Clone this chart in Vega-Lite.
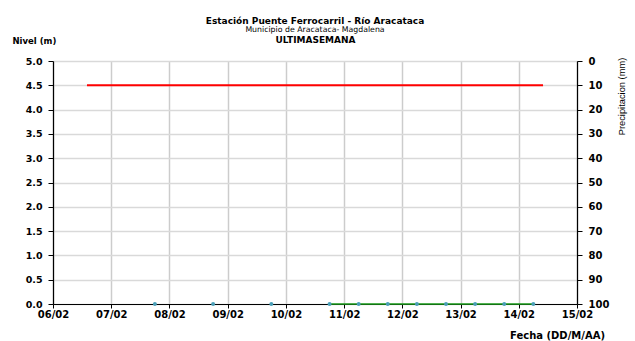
{
  "$schema": "https://vega.github.io/schema/vega-lite/v6.json",
  "width": 524,
  "height": 243,
  "autosize": {"type": "none"},
  "padding": {"left": 53, "top": 61, "right": 58, "bottom": 37},
  "background": "white",
  "config": {
    "font": "DejaVu Sans",
    "view": {"stroke": null},
    "axis": {
      "labelFont": "DejaVu Sans",
      "titleFont": "DejaVu Sans",
      "labelColor": "black",
      "titleColor": "black",
      "labelFontWeight": "bold",
      "labelFontSize": 9.5,
      "domainColor": "black",
      "domainWidth": 1.2,
      "tickColor": "black",
      "tickWidth": 1
    }
  },
  "title": {
    "text": "Estación Puente Ferrocarril - Río Aracataca",
    "subtitle": "Municipio de Aracataca- Magdalena",
    "font": "DejaVu Sans",
    "subtitleFont": "DejaVu Sans",
    "fontSize": 9,
    "fontWeight": "bold",
    "subtitleFontSize": 7.8,
    "subtitleFontWeight": "normal",
    "color": "black",
    "subtitleColor": "black",
    "subtitlePadding": 0,
    "anchor": "middle",
    "offset": 1
  },
  "datasets": {
    "precipitacion": [
      {"fecha": "2024-02-07T18:00:00Z", "precipitacion": 0},
      {"fecha": "2024-02-08T18:00:00Z", "precipitacion": 0},
      {"fecha": "2024-02-09T18:00:00Z", "precipitacion": 0},
      {"fecha": "2024-02-10T18:00:00Z", "precipitacion": 0},
      {"fecha": "2024-02-11T06:00:00Z", "precipitacion": 0},
      {"fecha": "2024-02-11T18:00:00Z", "precipitacion": 0},
      {"fecha": "2024-02-12T06:00:00Z", "precipitacion": 0},
      {"fecha": "2024-02-12T18:00:00Z", "precipitacion": 0},
      {"fecha": "2024-02-13T06:00:00Z", "precipitacion": 0},
      {"fecha": "2024-02-13T18:00:00Z", "precipitacion": 0},
      {"fecha": "2024-02-14T06:00:00Z", "precipitacion": 0}
    ],
    "umbral": [
      {"fecha": "2024-02-06T14:00:00Z", "nivel": 4.5},
      {"fecha": "2024-02-14T10:00:00Z", "nivel": 4.5}
    ],
    "nivel": [
      {"fecha": "2024-02-10T18:00:00Z", "nivel": 0},
      {"fecha": "2024-02-11T06:00:00Z", "nivel": 0},
      {"fecha": "2024-02-11T18:00:00Z", "nivel": 0},
      {"fecha": "2024-02-12T06:00:00Z", "nivel": 0},
      {"fecha": "2024-02-12T18:00:00Z", "nivel": 0},
      {"fecha": "2024-02-13T06:00:00Z", "nivel": 0},
      {"fecha": "2024-02-13T18:00:00Z", "nivel": 0},
      {"fecha": "2024-02-14T06:00:00Z", "nivel": 0}
    ],
    "lecturas": [
      {"fecha": "2024-02-07T18:00:00Z", "nivel": 0},
      {"fecha": "2024-02-08T18:00:00Z", "nivel": 0},
      {"fecha": "2024-02-09T18:00:00Z", "nivel": 0},
      {"fecha": "2024-02-10T18:00:00Z", "nivel": 0},
      {"fecha": "2024-02-11T06:00:00Z", "nivel": 0},
      {"fecha": "2024-02-11T18:00:00Z", "nivel": 0},
      {"fecha": "2024-02-12T06:00:00Z", "nivel": 0},
      {"fecha": "2024-02-12T18:00:00Z", "nivel": 0},
      {"fecha": "2024-02-13T06:00:00Z", "nivel": 0},
      {"fecha": "2024-02-13T18:00:00Z", "nivel": 0},
      {"fecha": "2024-02-14T06:00:00Z", "nivel": 0}
    ]
  },
  "layer": [
    {
      "data": {"name": "precipitacion"},
      "mark": {"type": "bar", "width": 2, "color": "#3366cc"},
      "encoding": {
        "x": {
          "field": "fecha",
          "type": "temporal",
          "scale": {"type": "utc", "padding": 0, "domain": ["2024-02-06T00:00:00Z", "2024-02-15T00:00:00Z"]},
          "axis": {
            "orient": "bottom",
            "format": "%d/%m",
            "values": [
              {"year": 2024, "month": 2, "date": 6, "utc": true},
              {"year": 2024, "month": 2, "date": 7, "utc": true},
              {"year": 2024, "month": 2, "date": 8, "utc": true},
              {"year": 2024, "month": 2, "date": 9, "utc": true},
              {"year": 2024, "month": 2, "date": 10, "utc": true},
              {"year": 2024, "month": 2, "date": 11, "utc": true},
              {"year": 2024, "month": 2, "date": 12, "utc": true},
              {"year": 2024, "month": 2, "date": 13, "utc": true},
              {"year": 2024, "month": 2, "date": 14, "utc": true},
              {"year": 2024, "month": 2, "date": 15, "utc": true}
            ],
            "grid": true,
            "gridColor": "#cccccc",
            "gridWidth": 1.5,
            "tickSize": 4,
            "labelPadding": 1,
            "labelFontSize": 10,
            "labelAngle": 0,
            "labelFlush": false,
            "labelOverlap": false,
            "title": "Fecha (DD/M/AA)",
            "titleFontSize": 10,
            "titleFontWeight": "bold",
            "titleAlign": "center",
            "titleBaseline": "alphabetic",
            "titleX": 504,
            "titleY": 34
          }
        },
        "y": {
          "field": "precipitacion",
          "type": "quantitative",
          "scale": {"domain": [0, 100], "reverse": true, "nice": false, "zero": true},
          "axis": {
            "orient": "right",
            "values": [0, 10, 20, 30, 40, 50, 60, 70, 80, 90, 100],
            "grid": false,
            "tickSize": 5,
            "labelPadding": 6,
            "labelFontSize": 10,
            "labelFlush": false,
            "title": "Precipitacion (mm)",
            "titleFont": "Liberation Sans",
            "titleFontSize": 9.3,
            "titleFontWeight": "normal",
            "titleAngle": 270,
            "titleAlign": "center",
            "titleBaseline": "middle",
            "titleX": 44,
            "titleY": 35
          }
        }
      }
    },
    {
      "encoding": {
        "x": {
          "field": "fecha",
          "type": "temporal",
          "scale": {"type": "utc", "padding": 0, "domain": ["2024-02-06T00:00:00Z", "2024-02-15T00:00:00Z"]},
          "axis": {
            "orient": "top",
            "labels": false,
            "ticks": false,
            "domain": false,
            "grid": false,
            "title": "ULTIMASEMANA",
            "titleFontSize": 9,
            "titleFontWeight": "bold",
            "titleAlign": "center",
            "titleBaseline": "alphabetic",
            "titleX": 262,
            "titleY": -19
          }
        },
        "y": {
          "field": "nivel",
          "type": "quantitative",
          "scale": {"domain": [0, 5], "nice": false},
          "axis": {
            "orient": "left",
            "values": [0, 0.5, 1, 1.5, 2, 2.5, 3, 3.5, 4, 4.5, 5],
            "format": ".1f",
            "grid": true,
            "gridColor": "#d9d9d9",
            "gridWidth": 1.5,
            "tickSize": 5,
            "labelPadding": 6,
            "labelFlush": false,
            "title": "Nivel (m)",
            "titleFontSize": 8.5,
            "titleFontWeight": "bold",
            "titleAngle": 0,
            "titleAlign": "left",
            "titleBaseline": "alphabetic",
            "titleX": -41,
            "titleY": -18
          }
        }
      },
      "layer": [
        {
          "data": {"name": "umbral"},
          "mark": {"type": "line", "color": "#ff0000", "strokeWidth": 2}
        },
        {
          "data": {"name": "nivel"},
          "mark": {"type": "line", "color": "#1a9a1a", "strokeWidth": 1.6}
        },
        {
          "data": {"name": "lecturas"},
          "mark": {"type": "point", "filled": true, "size": 16, "color": "#4a9fb8", "opacity": 1}
        }
      ]
    }
  ],
  "resolve": {"scale": {"y": "independent"}, "axis": {"x": "independent"}}
}
